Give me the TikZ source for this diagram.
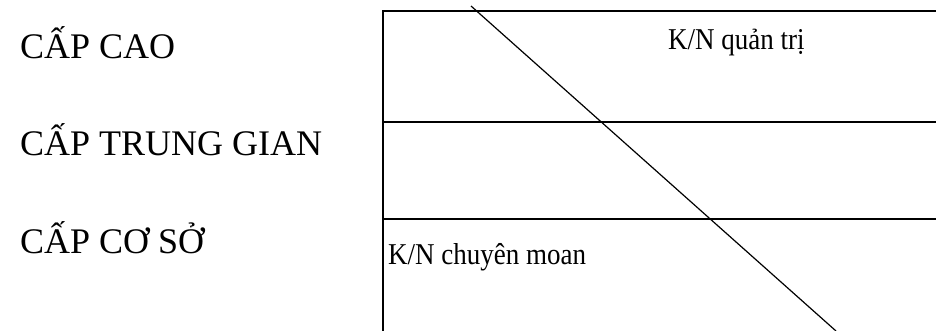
\documentclass[tikz,border=0pt]{standalone}
\usepackage{fontspec}
\setmainfont{Liberation Serif}
\newcommand{\tallK}[1]{\scalebox{1}[1.12]{#1}}
\begin{document}
\begin{tikzpicture}[x=1pt,y=-1pt,
  boxline/.style={line width=2pt},
  diag/.style={line width=1.2pt},
  lvl/.style={anchor=base west,inner sep=0pt,font=\fontsize{36}{40}\selectfont},
  kn/.style={anchor=base west,inner sep=0pt,font=\fontsize{27}{32}\selectfont}]
\useasboundingbox (0,0) rectangle (936,331);
\begin{scope}
\clip (0,0) rectangle (936,331);
\draw[boxline] (383,331) -- (383,11) -- (940,11);
\draw[boxline] (383,122) -- (940,122);
\draw[boxline] (383,219) -- (940,219);
\draw[diag] (471,6) -- (836,331);
\end{scope}
\node[lvl] (cao) at (20,59) {CẤP CAO};
\node[lvl] (tg) at (20,156) {CẤP TRUNG GIAN};
\node[lvl] (cs) at (20,253) {CẤP CƠ SỞ};
\node[kn] (qt) at (668,50) {\tallK{K/N quản trị}};
\node[kn] (cm) at (388,264) {\tallK{K/N chuyên moan}};
\end{tikzpicture}
\end{document}
